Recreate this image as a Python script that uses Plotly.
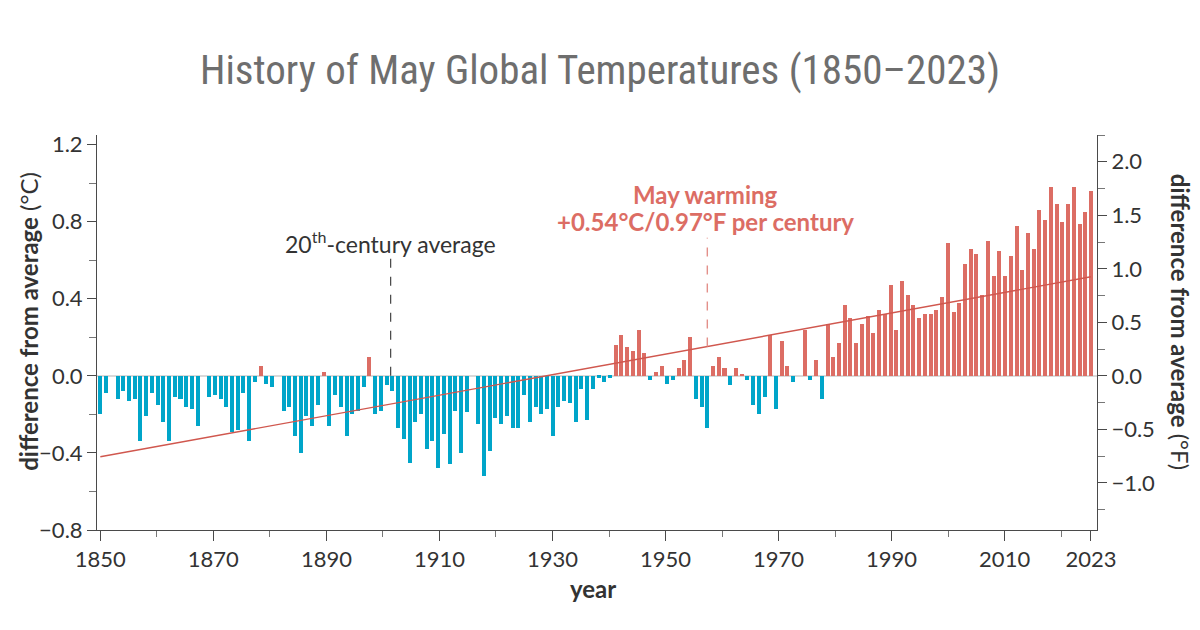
import plotly.graph_objects as go

# ---------------- data ----------------
years = list(range(1850, 2024))
anomaly_c = [
    -0.20, -0.09, 0.00, -0.12, -0.08, -0.13, -0.12, -0.34, -0.21, -0.09,   # 1850s
    -0.15, -0.24, -0.34, -0.11, -0.12, -0.16, -0.17, -0.26, 0.00, -0.11,   # 1860s
    -0.10, -0.12, -0.16, -0.29, -0.28, -0.09, -0.34, -0.03, 0.05, -0.04,   # 1870s
    -0.06, 0.00, -0.18, -0.16, -0.31, -0.40, -0.21, -0.26, -0.15, 0.02,    # 1880s
    -0.26, -0.10, -0.16, -0.31, -0.20, -0.18, -0.06, 0.10, -0.20, -0.18,   # 1890s
    -0.05, -0.08, -0.27, -0.33, -0.45, -0.24, -0.20, -0.38, -0.34, -0.48,  # 1900s
    -0.30, -0.46, -0.18, -0.40, -0.19, 0.00, -0.25, -0.52, -0.39, -0.22,   # 1910s
    -0.25, -0.21, -0.27, -0.27, -0.10, -0.24, -0.16, -0.20, -0.17, -0.31,  # 1920s
    -0.16, -0.13, -0.14, -0.24, -0.07, -0.23, -0.07, -0.01, -0.03, -0.01,  # 1930s
    0.16, 0.21, 0.15, 0.13, 0.24, 0.12, -0.02, 0.02, 0.05, -0.04,          # 1940s
    -0.02, 0.04, 0.08, 0.20, -0.12, -0.16, -0.27, 0.05, 0.10, 0.04,        # 1950s
    -0.05, 0.04, 0.01, -0.02, -0.15, -0.20, -0.11, 0.21, -0.17, 0.18,      # 1960s
    0.05, -0.03, 0.00, 0.24, -0.02, 0.08, -0.12, 0.27, 0.10, 0.17,         # 1970s
    0.37, 0.30, 0.17, 0.27, 0.31, 0.22, 0.34, 0.32, 0.47, 0.24,            # 1980s
    0.49, 0.42, 0.37, 0.30, 0.32, 0.32, 0.34, 0.41, 0.69, 0.33,            # 1990s
    0.38, 0.58, 0.66, 0.63, 0.42, 0.70, 0.52, 0.65, 0.52, 0.62,            # 2000s
    0.78, 0.55, 0.74, 0.66, 0.86, 0.81, 0.98, 0.89, 0.80, 0.89,            # 2010s
    0.98, 0.79, 0.85, 0.96,                                                # 2020s
]
trend_1850 = -0.42          # trend value in 1850 (deg C)
trend_per_year = 0.0054     # +0.54 C per century

x_tick_years = [1850, 1870, 1890, 1910, 1930, 1950, 1970, 1990, 2010, 2023]
x_minor_years = [1860, 1880, 1900, 1920, 1940, 1960, 1980, 2000, 2020]
y_ticks_c = [-0.8, -0.4, 0.0, 0.4, 0.8, 1.2]
y_ticks_f = [-1.0, -0.5, 0.0, 0.5, 1.0, 1.5, 2.0]

title_text = "History of May Global Temperatures (1850–2023)"

# ---------------- styling ----------------
BLUE = "#00a5c9"
RED = "#dc6d64"
TREND = "#d0574e"
TEXT = "#333333"
AXIS = "#4a4a4a"
FONT = "Source Sans Pro, Lato, sans-serif"
TITLE_FONT = "Roboto Condensed, Liberation Sans Narrow, DejaVu Sans Condensed, Roboto, sans-serif"

# the reference places its decade ticks slightly tighter than the bars
tick_ratio = 0.987
def tick_pos(y):
    return y if y == 2023 else 1850 + (y - 1850) * tick_ratio

def fmt(v, nd=1):
    s = f"{abs(v):.{nd}f}"
    return ("\u2212" + s) if v < 0 else s

colors = [RED if v > 0 else BLUE for v in anomaly_c]
trend = [trend_1850 + trend_per_year * (y - 1850) for y in years]

fig = go.Figure()
fig.add_trace(go.Bar(x=years, y=anomaly_c, marker=dict(color=colors, line=dict(width=0)),
                     width=0.7, hoverinfo="x+y", showlegend=False))
fig.add_trace(go.Scatter(x=years, y=trend, mode="lines",
                         line=dict(color=TREND, width=1.4), showlegend=False, hoverinfo="skip"))
# invisible trace to activate the Fahrenheit axis
fig.add_trace(go.Scatter(x=[years[0]], y=[0], yaxis="y2", mode="markers",
                         marker=dict(opacity=0), showlegend=False, hoverinfo="skip"))

fig.update_layout(
    width=1200, height=630,
    margin=dict(l=97, r=103, t=135, b=100),
    paper_bgcolor="white", plot_bgcolor="white",
    font=dict(family=FONT, color=TEXT, size=22),
    bargap=0,
    title=dict(text=title_text, x=0.5, xanchor="center", y=1 - 70 / 630, yanchor="middle",
               font=dict(family=TITLE_FONT, size=41, color="#6e6e6e")),
    xaxis=dict(
        range=[1849.42, 2024.05], showgrid=False, zeroline=False,
        showline=True, linecolor=AXIS, linewidth=1,
        ticks="outside", ticklen=10, tickcolor=AXIS, tickwidth=1,
        tickvals=[tick_pos(y) for y in x_tick_years],
        ticktext=[str(y) for y in x_tick_years],
        tickfont=dict(size=22, color=TEXT),
        minor=dict(tickvals=[tick_pos(y) for y in x_minor_years], ticks="outside",
                   ticklen=6, tickcolor="#777777", tickwidth=1, showgrid=False),
    ),
    yaxis=dict(
        range=[-0.8, 1.25], showgrid=False,
        zeroline=True, zerolinecolor="#d9d9d9", zerolinewidth=2,
        showline=True, linecolor=AXIS, linewidth=1,
        ticks="outside", ticklen=9, tickcolor=AXIS,
        tickvals=y_ticks_c, ticktext=[fmt(v) for v in y_ticks_c],
        tickfont=dict(size=22, color=TEXT),
        minor=dict(tick0=0, dtick=0.2, ticks="outside", ticklen=7, tickcolor="#777777", showgrid=False),
    ),
    yaxis2=dict(
        overlaying="y", side="right",
        range=[-0.8 * 1.8, 1.25 * 1.8], showgrid=False, zeroline=False,
        showline=True, linecolor=AXIS, linewidth=1,
        ticks="outside", ticklen=9, tickcolor=AXIS,
        tickvals=y_ticks_f, ticktext=[fmt(v) for v in y_ticks_f],
        tickfont=dict(size=22, color=TEXT),
        minor=dict(tick0=0, dtick=0.25, ticks="outside", ticklen=7, tickcolor="#777777", showgrid=False),
    ),
)

# axis titles
fig.add_annotation(xref="paper", yref="paper", x=-0.068, y=0.527, textangle=-90,
                   text="<b>difference from average</b> (°C)", showarrow=False,
                   font=dict(size=24, color=TEXT), xanchor="center", yanchor="middle")
fig.add_annotation(xref="paper", yref="paper", x=1.083, y=0.527, textangle=90,
                   text="<b>difference from average</b> (°F)", showarrow=False,
                   font=dict(size=24, color=TEXT), xanchor="center", yanchor="middle")
fig.add_annotation(xref="paper", yref="paper", x=0.496, y=-0.147,
                   text="<b>year</b>", showarrow=False,
                   font=dict(size=24, color=TEXT), xanchor="center", yanchor="middle")

# 20th-century average label
avg_x = 1900.7
fig.add_shape(type="line", xref="x", yref="y", x0=avg_x, x1=avg_x, y0=0, y1=0.61,
              line=dict(color="#444444", width=1.2, dash="dash"))
fig.add_annotation(xref="x", yref="y", x=avg_x, y=0.69,
                   text="20<sup>th</sup>-century average", showarrow=False,
                   font=dict(size=23, color=TEXT), xanchor="center", yanchor="middle")

# warming label
warm_x = 1956
warm_trend = trend_1850 + trend_per_year * (warm_x - 1850)
fig.add_shape(type="line", xref="x", yref="y", x0=warm_x, x1=warm_x, y0=warm_trend, y1=0.717,
              line=dict(color="#e3908a", width=1.4, dash="dash"))
fig.add_annotation(xref="x", yref="y", x=warm_x - 0.3, y=0.94,
                   text="<b>May warming</b>", showarrow=False,
                   font=dict(size=24, color=RED), xanchor="center", yanchor="middle")
fig.add_annotation(xref="x", yref="y", x=warm_x - 0.3, y=0.80,
                   text="<b>+0.54°C/0.97°F per century</b>", showarrow=False,
                   font=dict(size=24, color=RED), xanchor="center", yanchor="middle")

fig.write_html("out.html")
